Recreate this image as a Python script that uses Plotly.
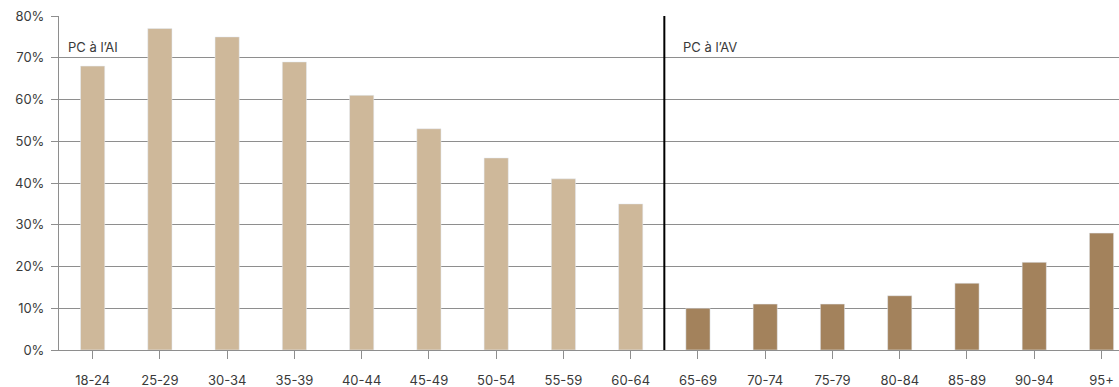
import plotly.graph_objects as go

cats_ai = ["18-24", "25-29", "30-34", "35-39", "40-44", "45-49", "50-54", "55-59", "60-64"]
vals_ai = [68, 77, 75, 69, 61, 53, 46, 41, 35]
cats_av = ["65-69", "70-74", "75-79", "80-84", "85-89", "90-94", "95+"]
vals_av = [10, 11, 11, 13, 16, 21, 28]
y_ticks = [0, 10, 20, 30, 40, 50, 60, 70, 80]

all_cats = cats_ai + cats_av
fig = go.Figure()
fig.add_trace(go.Bar(x=cats_ai, y=vals_ai, marker_color="#CEB89A", width=0.36, showlegend=False))
fig.add_trace(go.Bar(x=cats_av, y=vals_av, marker_color="#A3825C", width=0.36, showlegend=False))

grid = "#8e8e8e"
fig.update_layout(
    width=1119, height=387,
    margin=dict(l=59, r=0, t=16, b=37),
    plot_bgcolor="white", paper_bgcolor="white",
    font=dict(family="Inter, Roboto, sans-serif", size=13, color="#3a3a3a"),
    barmode="overlay",
    xaxis=dict(
        type="category", categoryorder="array", categoryarray=all_cats,
        range=[-0.5, 15.26], showgrid=False, showline=True, linecolor=grid, linewidth=1,
        ticks="outside", ticklen=8, tickcolor=grid, ticklabelstandoff=10,
    ),
    yaxis=dict(
        range=[0, 80], tickvals=y_ticks, ticktext=[f"{v}%" for v in y_ticks],
        showgrid=True, gridcolor=grid, gridwidth=1, showline=True, linecolor=grid, linewidth=1,
        ticks="outside", ticklen=7, tickcolor=grid, zeroline=False, ticklabelstandoff=4,
    ),
    shapes=[dict(type="line", xref="x", yref="paper", x0=8.5, x1=8.5, y0=0, y1=1,
                 line=dict(color="black", width=2))],
    annotations=[
        dict(text="PC à l’AI", x=-0.5, y=72.5, xref="x", yref="y", xanchor="left", yanchor="middle",
             xshift=7, showarrow=False, font=dict(size=13, color="#3a3a3a")),
        dict(text="PC à l’AV", x=8.5, y=72.5, xref="x", yref="y", xanchor="left", yanchor="middle",
             xshift=17, showarrow=False, font=dict(size=13, color="#3a3a3a")),
    ],
)
fig.write_html(
    "out.html",
    config={"displayModeBar": False},
    post_script="document.body.style.margin='0';document.body.style.overflow='hidden';",
)
